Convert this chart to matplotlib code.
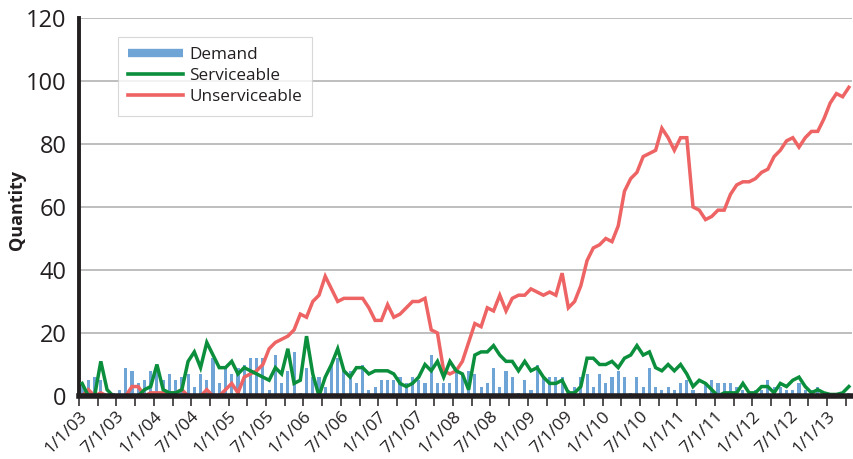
import numpy as np
import matplotlib
matplotlib.use('Agg')
import matplotlib.pyplot as plt
from matplotlib.lines import Line2D

# ---- data (monthly, Jan 2003 .. Apr 2013) ----
demand = [4, 5, 6, 5, 0, 1, 2, 9, 8, 4, 5, 8, 8, 5, 7, 5, 6, 7, 3, 7,
          5, 12, 4, 9, 7, 9, 10, 12, 12, 12, 2, 13, 4, 8, 14, 1, 9, 6, 6, 3,
          10, 12, 8, 8, 4, 10, 2, 3, 5, 5, 5, 6, 4, 6, 5, 4, 13, 4, 4, 4,
          8, 7, 8, 7, 3, 4, 9, 3, 8, 6, 1, 5, 2, 10, 6, 6, 6, 6, 2, 3,
          6, 7, 3, 7, 4, 6, 8, 6, 1, 6, 3, 9, 3, 2, 3, 2, 4, 5, 2, 1,
          4, 5, 4, 4, 4, 3, 2, 1, 2, 2, 5, 3, 3, 2, 2, 4, 2, 2, 3, 1,
          1, 0, 0, 1]

serviceable = [4, 0, 0, 11, 2, 0, 0, 0, 0, 0, 2, 3, 10, 2, 1, 1, 2, 11, 14, 9,
               17, 13, 9, 9, 11, 7, 9, 8, 7, 6, 5, 9, 7, 15, 4, 5, 19, 7, 0, 6,
               10, 15, 8, 6, 9, 9, 7, 8, 8, 8, 7, 4, 3, 4, 6, 10, 8, 11, 6, 11,
               8, 7, 2, 13, 14, 14, 16, 13, 11, 11, 8, 11, 8, 9, 6, 4, 4, 5, 1, 1,
               3, 12, 12, 10, 10, 11, 9, 12, 13, 16, 13, 14, 9, 8, 10, 8, 10, 7, 3, 5,
               4, 2, 0, 1, 1, 1, 4, 1, 1, 3, 3, 1, 4, 3, 5, 6, 3, 1, 2, 1,
               0.5, 0.5, 1, 3]

unserviceable = [0, 2, 0, 1, 0, 0, 0, 0, 3, 3, 0, 1, 1, 1, 1, 1, 2, 0, 0, 0,
                 2, 0, 0, 2, 4, 1, 6, 7, 8, 10, 15, 17, 18, 19, 21, 26, 25, 30, 32, 38,
                 34, 30, 31, 31, 31, 31, 28, 24, 24, 29, 25, 26, 28, 30, 30, 31, 21, 20, 8, 7,
                 8, 11, 17, 23, 22, 28, 27, 32, 27, 31, 32, 32, 34, 33, 32, 33, 32, 39, 28, 30,
                 35, 43, 47, 48, 50, 49, 54, 65, 69, 71, 76, 77, 78, 85, 82, 78, 82, 82, 60, 59,
                 56, 57, 59, 59, 64, 67, 68, 68, 69, 71, 72, 76, 78, 81, 82, 79, 82, 84, 84, 88,
                 93, 96, 95, 98]

tick_labels = ['1/1/03', '7/1/03', '1/1/04', '7/1/04', '1/1/05', '7/1/05',
               '1/1/06', '7/1/06', '1/1/07', '7/1/07', '1/1/08', '7/1/08',
               '1/1/09', '7/1/09', '1/1/10', '7/1/10', '1/1/11', '7/1/11',
               '1/1/12', '7/1/12', '1/1/13']
y_ticks = [0, 20, 40, 60, 80, 100, 120]

plt.rcParams['font.family'] = ['Open Sans', 'DejaVu Sans']

BLUE = '#6fa4d6'
GREEN = '#0b8f3c'
RED = '#ee6363'
TXT = '#231f20'

fig = plt.figure(figsize=(8.54, 4.59), dpi=100)
ax = fig.add_axes([79/854, 1-396/459, 773/854, 378/459])

n = len(demand)
x = np.arange(n)
ax.bar(x, demand, width=0.5, color=BLUE, zorder=2)
ax.plot(x, serviceable, color=GREEN, lw=2.5, zorder=4, solid_joinstyle='miter')
ax.plot(x, unserviceable, color=RED, lw=2.5, zorder=3, solid_joinstyle='miter')

ax.set_xlim(-0.5, n - 0.5)
ax.set_ylim(0, 120)
ax.set_yticks(y_ticks)
ax.set_yticklabels([str(v) for v in y_ticks], fontsize=17, color=TXT)
ax.tick_params(axis='y', length=0, pad=9)
ax.yaxis.grid(True, color='#b3b3b3', lw=1.2, zorder=0)
ax.set_axisbelow(True)

major = [-0.5 + 6 * k for k in range(len(tick_labels))]
minor = [-0.5 + 3 * k for k in range(2 * len(tick_labels) + 1) if -0.5 + 3 * k < n - 0.5]
ax.set_xticks(minor, minor=True)
ax.set_xticks(major)
ax.set_xticklabels(tick_labels, rotation=45, ha='right', va='top',
                   rotation_mode='anchor', fontsize=12.5, color=TXT)
ax.tick_params(axis='x', which='both', direction='out', length=7, width=1.1,
               color='#231f20', pad=2)

for s in ['top', 'right']:
    ax.spines[s].set_visible(False)
ax.spines['left'].set_linewidth(2.8)
ax.spines['left'].set_color('#231f20')
ax.spines['bottom'].set_linewidth(4)
ax.spines['bottom'].set_color('#231f20')
ax.spines['bottom'].set_zorder(5)

fig.text(17/854, 1-210/459, 'Quantity', rotation=90, fontsize=13,
         fontweight='bold', color=TXT, ha='center', va='center')

handles = [Line2D([], [], color=BLUE, lw=6, solid_capstyle='butt'),
           Line2D([], [], color=GREEN, lw=2.6),
           Line2D([], [], color=RED, lw=2.6)]
leg = ax.legend(handles, ['Demand', 'Serviceable', 'Unserviceable'],
                loc='upper left', bbox_to_anchor=(0.05, 0.95),
                fontsize=12.3, handlelength=3.2, handletextpad=0.4,
                labelspacing=0.3, frameon=True, fancybox=False,
                borderpad=0.6, borderaxespad=0)
leg.get_frame().set_edgecolor('#cfcfcf')
leg.get_frame().set_linewidth(0.8)
for t in leg.get_texts():
    t.set_color(TXT)

fig.savefig('out.png', dpi=100)
